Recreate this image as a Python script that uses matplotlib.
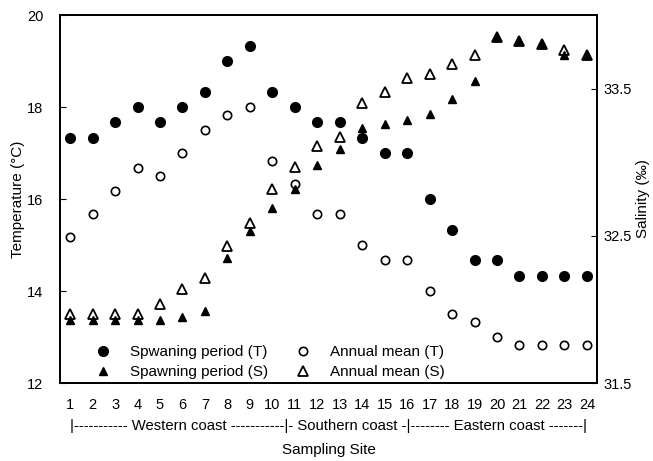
import numpy as np
import matplotlib
matplotlib.use('Agg')
import matplotlib.pyplot as plt

plt.rcParams['font.family'] = ['Liberation Sans', 'DejaVu Sans']

# sampling sites
sites = list(range(1, 25))

# temperature (C)
temp_spawn = [17.33, 17.33, 17.67, 18.0, 17.67, 18.0, 18.33, 19.0, 19.33, 18.33, 18.0, 17.67,
              17.67, 17.33, 17.0, 17.0, 16.0, 15.33, 14.67, 14.67, 14.33, 14.33, 14.33, 14.33]
temp_annual = [15.17, 15.67, 16.17, 16.67, 16.5, 17.0, 17.5, 17.83, 18.0, 16.83, 16.33, 15.67,
               15.67, 15.0, 14.67, 14.67, 14.0, 13.5, 13.33, 13.0, 12.83, 12.83, 12.83, 12.83]

# salinity (permil)
sal_spawn = [31.93, 31.93, 31.93, 31.93, 31.93, 31.95, 31.99, 32.35, 32.53, 32.69, 32.82, 32.98,
             33.09, 33.23, 33.26, 33.29, 33.33, 33.43, 33.55, 33.85, 33.82, 33.80, 33.73, 33.73]
sal_annual = [31.97, 31.97, 31.97, 31.97, 32.04, 32.14, 32.21, 32.43, 32.59, 32.82, 32.97, 33.11,
              33.17, 33.40, 33.48, 33.57, 33.60, 33.67, 33.73, 33.85, 33.82, 33.80, 33.76, 33.73]

fig = plt.figure(figsize=(6.53, 4.61), dpi=100)
ax = fig.add_axes([60/653, 78/461, 537/653, 368/461])
ax2 = ax.twinx()

h1, = ax.plot(sites, temp_spawn, 'o', color='black', ms=7, linestyle='none')
h2, = ax.plot(sites, temp_annual, 'o', mfc='white', mec='black', mew=1.2, ms=6, linestyle='none')
# open triangles first so the filled ones sit on top
h4, = ax2.plot(sites, sal_annual, '^', mfc='white', mec='black', mew=1.3, ms=6.5, linestyle='none')
h3, = ax2.plot(sites, sal_spawn, '^', color='black', ms=6, linestyle='none')

ax.set_xlim(0.55, 24.45)
ax.set_ylim(12, 20)
ax.set_yticks([12, 14, 16, 18, 20])
ax.set_xticks(sites)
ax.tick_params(axis='x', length=0, pad=11, labelsize=10.5)
ax.tick_params(axis='y', direction='in', length=4, labelsize=10.5, pad=12)

ax2.set_ylim(31.5, 34.0)
ax2.set_yticks([31.5, 32.5, 33.5])
ax2.set_yticklabels(['31.5', '32.5', '33.5'])
ax2.tick_params(axis='y', direction='in', length=4, labelsize=10.5, pad=5)

for a in (ax, ax2):
    for s in a.spines.values():
        s.set_linewidth(1.3)

ax.set_ylabel('Temperature (°C)', fontsize=11)
ax2.set_ylabel('Salinity (‰)', fontsize=11)
ax.set_xlabel('Sampling Site', fontsize=11)
ax.xaxis.set_label_coords(0.5, -0.163)
ax.yaxis.set_label_coords(-0.065, 0.5)
ax2.yaxis.set_label_coords(1.072, 0.5)

ax.text(0.5, -0.117, '|----------- Western coast -----------|- Southern coast -|-------- Eastern coast -------|',
        transform=ax.transAxes, ha='center', va='center', fontsize=10.7)

ax2.legend([h1, h3, h2, h4],
           ['Spwaning period (T)', 'Spawning period (S)', 'Annual mean (T)', 'Annual mean (S)'],
           ncol=2, frameon=False, loc='lower left', bbox_to_anchor=(0.066, 0.01),
           borderpad=0, handlelength=1.0, handletextpad=1.27, columnspacing=1.8,
           labelspacing=0.4, fontsize=11, borderaxespad=0)

plt.savefig('out.png', dpi=100)
